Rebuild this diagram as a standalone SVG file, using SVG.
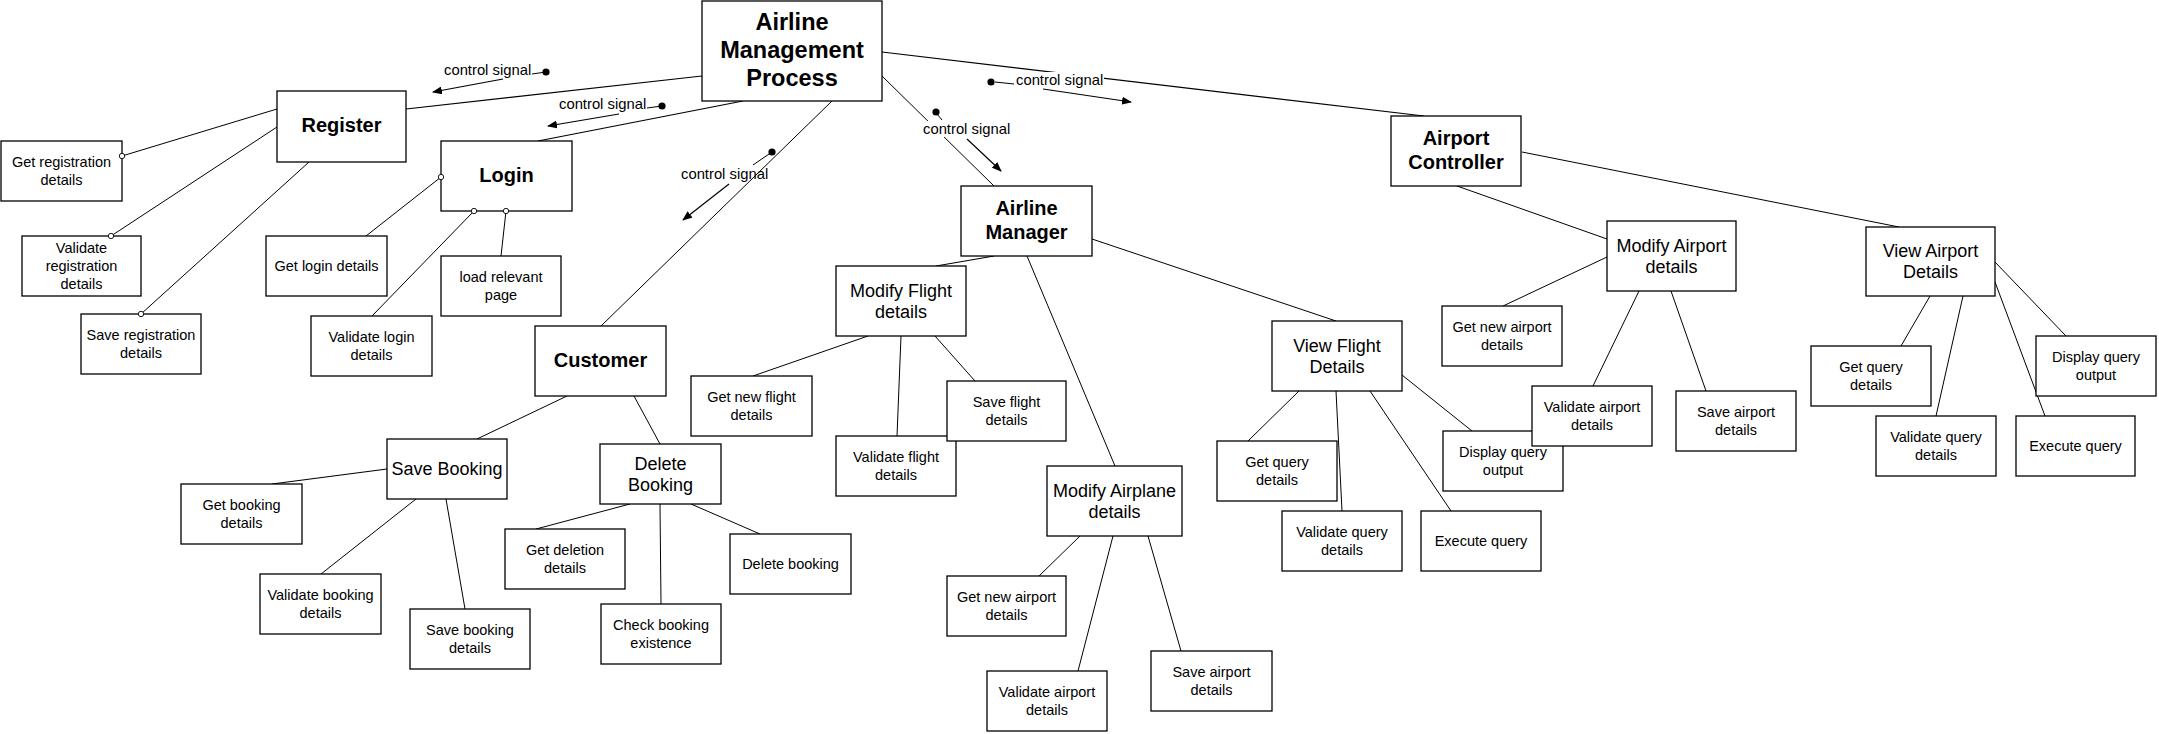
<svg xmlns="http://www.w3.org/2000/svg" width="2159" height="734" viewBox="0 0 2159 734">
<style>
.bg{fill:#fff}
.box{fill:#fff;stroke:#000;stroke-width:1.3}
.t{font-family:"Liberation Sans",Arial,Helvetica,sans-serif;text-anchor:middle;fill:#000}
.leaf{font-size:14.5px}
.mid{font-size:18px}
.main{font-size:20px;font-weight:bold}
.title{font-size:23.5px;font-weight:bold}
.cl{font-family:"Liberation Sans",Arial,Helvetica,sans-serif;font-size:14.8px;fill:#000}
.ln{stroke:#000;stroke-width:1;fill:none}
.lnb{stroke:#000;stroke-width:1.2;fill:none}
.arr{stroke:#000;stroke-width:1.2;fill:none;marker-end:url(#ah)}
.dot{fill:#000}
.oc{fill:#fff;stroke:#000;stroke-width:0.9}
.lbg{fill:#fff}
</style>
<defs>
<marker id="ah" viewBox="0 0 10 8" refX="9" refY="4" markerWidth="10" markerHeight="8" markerUnits="userSpaceOnUse" orient="auto">
<path d="M0,0 L10,4 L0,8 Z" fill="#000"/>
</marker>
</defs>
<rect class="bg" x="0" y="0" width="2159" height="734"/>

<g id="connectors">
<!-- from Airline Management Process -->
<line class="lnb" x1="702" y1="76" x2="406" y2="109"/>
<line class="lnb" x1="743" y1="101" x2="538" y2="141"/>
<line class="ln" x1="832" y1="101" x2="601" y2="326"/>
<line class="ln" x1="882" y1="76" x2="994" y2="186"/>
<line class="lnb" x1="882" y1="52" x2="1424" y2="116"/>
<!-- control signals -->
<g id="cs1">
<text class="cl" x="444" y="75">control signal</text>
<line class="ln" x1="532" y1="74" x2="546" y2="72"/>
<circle class="dot" cx="546" cy="72" r="3.6"/>
<line class="arr" x1="503" y1="79" x2="433" y2="92"/>
</g>
<g id="cs2">
<text class="cl" x="559" y="109">control signal</text>
<line class="ln" x1="647" y1="108" x2="662" y2="106"/>
<circle class="dot" cx="662" cy="106" r="3.6"/>
<line class="arr" x1="619" y1="114" x2="548" y2="126"/>
</g>
<g id="cs3">
<text class="cl" x="681" y="179">control signal</text>
<line class="ln" x1="753" y1="165" x2="772" y2="152"/>
<circle class="dot" cx="772" cy="152" r="3.6"/>
<line class="arr" x1="729" y1="184" x2="683" y2="220"/>
</g>
<g id="cs4">
<rect class="lbg" x="1015" y="72" width="89" height="16"/>
<text class="cl" x="1016" y="85">control signal</text>
<line class="ln" x1="995" y1="82" x2="1014" y2="84"/>
<circle class="dot" cx="991" cy="82" r="3.6"/>
<line class="arr" x1="1043" y1="89" x2="1131" y2="102"/>
</g>
<g id="cs5">
<rect class="lbg" x="922" y="121" width="89" height="16"/>
<text class="cl" x="923" y="134">control signal</text>
<line class="ln" x1="937" y1="114" x2="942" y2="120"/>
<circle class="dot" cx="936" cy="112" r="3.6"/>
<line class="arr" x1="967" y1="139" x2="1001" y2="171"/>
</g>
<!-- Register children -->
<line class="ln" x1="277" y1="109" x2="122" y2="156"/>
<line class="ln" x1="277" y1="127" x2="111" y2="236"/>
<line class="ln" x1="309" y1="162" x2="141" y2="314"/>
<!-- Login children -->
<line class="ln" x1="441" y1="177" x2="366" y2="236"/>
<line class="ln" x1="474" y1="211" x2="372" y2="316"/>
<line class="ln" x1="506" y1="211" x2="501" y2="256"/>
<!-- Customer -->
<line class="ln" x1="567" y1="396" x2="477" y2="439"/>
<line class="ln" x1="634" y1="396" x2="660" y2="444"/>
<!-- Save Booking -->
<line class="lnb" x1="387" y1="469" x2="272" y2="484"/>
<line class="ln" x1="416" y1="499" x2="321" y2="574"/>
<line class="ln" x1="446" y1="499" x2="465" y2="609"/>
<!-- Delete Booking -->
<line class="ln" x1="630" y1="504" x2="536" y2="529"/>
<line class="ln" x1="660" y1="504" x2="661" y2="604"/>
<line class="ln" x1="691" y1="504" x2="760" y2="534"/>
<!-- Airline Manager -->
<line class="lnb" x1="994" y1="256" x2="936" y2="266"/>
<line class="ln" x1="1027" y1="256" x2="1115" y2="466"/>
<line class="ln" x1="1092" y1="239" x2="1336" y2="321"/>
<!-- Modify Flight -->
<line class="ln" x1="868" y1="336" x2="753" y2="376"/>
<line class="ln" x1="901" y1="336" x2="897" y2="436"/>
<line class="ln" x1="935" y1="336" x2="975" y2="381"/>
<!-- Modify Airplane -->
<line class="ln" x1="1080" y1="536" x2="1039" y2="576"/>
<line class="ln" x1="1113" y1="536" x2="1078" y2="671"/>
<line class="ln" x1="1148" y1="536" x2="1181" y2="651"/>
<!-- View Flight -->
<line class="ln" x1="1299" y1="391" x2="1248" y2="441"/>
<line class="ln" x1="1336" y1="391" x2="1342" y2="511"/>
<line class="ln" x1="1370" y1="391" x2="1451" y2="511"/>
<line class="ln" x1="1402" y1="375" x2="1472" y2="431"/>
<!-- Airport Controller -->
<line class="ln" x1="1457" y1="186" x2="1607" y2="239"/>
<line class="ln" x1="1522" y1="152" x2="1899" y2="227"/>
<!-- Modify Airport -->
<line class="ln" x1="1607" y1="257" x2="1503" y2="306"/>
<line class="ln" x1="1639" y1="291" x2="1593" y2="386"/>
<line class="ln" x1="1671" y1="291" x2="1706" y2="391"/>
<!-- View Airport -->
<line class="ln" x1="1930" y1="296" x2="1901" y2="346"/>
<line class="ln" x1="1963" y1="296" x2="1936" y2="416"/>
<line class="ln" x1="1995" y1="282" x2="2045" y2="416"/>
<line class="ln" x1="1995" y1="262" x2="2066" y2="336"/>
</g>

<g id="amp"><rect class="box" x="702" y="1" width="180" height="100"/>
<text class="t title"><tspan x="792" y="30">Airline</tspan><tspan x="792" y="58">Management</tspan><tspan x="792" y="86">Process</tspan></text></g>
<g id="register"><rect class="box" x="277" y="91" width="129" height="71"/>
<text class="t main" x="341.5" y="132">Register</text></g>
<g id="login"><rect class="box" x="441" y="141" width="131" height="70"/>
<text class="t main" x="506.5" y="182">Login</text></g>
<g id="customer"><rect class="box" x="535" y="326" width="131" height="70"/>
<text class="t main" x="600.5" y="367">Customer</text></g>
<g id="airline-manager"><rect class="box" x="961" y="186" width="131" height="70"/>
<text class="t main"><tspan x="1026.5" y="215">Airline</tspan><tspan x="1026.5" y="239">Manager</tspan></text></g>
<g id="airport-controller"><rect class="box" x="1391" y="116" width="130" height="70"/>
<text class="t main"><tspan x="1456" y="145">Airport</tspan><tspan x="1456" y="169">Controller</tspan></text></g>

<g id="save-booking"><rect class="box" x="387" y="439" width="120" height="60"/>
<text class="t mid" x="447" y="475">Save Booking</text></g>
<g id="delete-booking"><rect class="box" x="600" y="444" width="121" height="60"/>
<text class="t mid"><tspan x="660.5" y="469.5">Delete</tspan><tspan x="660.5" y="490.5">Booking</tspan></text></g>
<g id="modify-flight"><rect class="box" x="836" y="266" width="130" height="70"/>
<text class="t mid"><tspan x="901" y="296.5">Modify Flight</tspan><tspan x="901" y="317.5">details</tspan></text></g>
<g id="modify-airplane"><rect class="box" x="1047" y="466" width="135" height="70"/>
<text class="t mid"><tspan x="1114.5" y="496.5">Modify Airplane</tspan><tspan x="1114.5" y="517.5">details</tspan></text></g>
<g id="view-flight"><rect class="box" x="1272" y="321" width="130" height="70"/>
<text class="t mid"><tspan x="1337" y="351.5">View Flight</tspan><tspan x="1337" y="372.5">Details</tspan></text></g>
<g id="modify-airport"><rect class="box" x="1607" y="221" width="129" height="70"/>
<text class="t mid"><tspan x="1671.5" y="251.5">Modify Airport</tspan><tspan x="1671.5" y="272.5">details</tspan></text></g>
<g id="view-airport"><rect class="box" x="1866" y="227" width="129" height="69"/>
<text class="t mid"><tspan x="1930.5" y="256.5">View Airport</tspan><tspan x="1930.5" y="277.5">Details</tspan></text></g>

<g id="get-reg"><rect class="box" x="1" y="141" width="121" height="60"/>
<text class="t leaf"><tspan x="61.5" y="167">Get registration</tspan><tspan x="61.5" y="185">details</tspan></text></g>
<g id="validate-reg"><rect class="box" x="22" y="236" width="119" height="60"/>
<text class="t leaf"><tspan x="81.5" y="253">Validate</tspan><tspan x="81.5" y="271">registration</tspan><tspan x="81.5" y="289">details</tspan></text></g>
<g id="save-reg"><rect class="box" x="81" y="314" width="120" height="60"/>
<text class="t leaf"><tspan x="141" y="340">Save registration</tspan><tspan x="141" y="358">details</tspan></text></g>
<g id="get-login"><rect class="box" x="266" y="236" width="121" height="60"/>
<text class="t leaf" x="326.5" y="271">Get login details</text></g>
<g id="load-page"><rect class="box" x="441" y="256" width="120" height="60"/>
<text class="t leaf"><tspan x="501" y="282">load relevant</tspan><tspan x="501" y="300">page</tspan></text></g>
<g id="validate-login"><rect class="box" x="311" y="316" width="121" height="60"/>
<text class="t leaf"><tspan x="371.5" y="342">Validate login</tspan><tspan x="371.5" y="360">details</tspan></text></g>
<g id="get-booking"><rect class="box" x="181" y="484" width="121" height="60"/>
<text class="t leaf"><tspan x="241.5" y="510">Get booking</tspan><tspan x="241.5" y="528">details</tspan></text></g>
<g id="validate-booking"><rect class="box" x="260" y="574" width="121" height="60"/>
<text class="t leaf"><tspan x="320.5" y="600">Validate booking</tspan><tspan x="320.5" y="618">details</tspan></text></g>
<g id="save-booking-details"><rect class="box" x="410" y="609" width="120" height="60"/>
<text class="t leaf"><tspan x="470" y="635">Save booking</tspan><tspan x="470" y="653">details</tspan></text></g>
<g id="get-deletion"><rect class="box" x="505" y="529" width="120" height="60"/>
<text class="t leaf"><tspan x="565" y="555">Get deletion</tspan><tspan x="565" y="573">details</tspan></text></g>
<g id="check-booking"><rect class="box" x="601" y="604" width="120" height="60"/>
<text class="t leaf"><tspan x="661" y="630">Check booking</tspan><tspan x="661" y="648">existence</tspan></text></g>
<g id="delete-booking-leaf"><rect class="box" x="730" y="534" width="121" height="60"/>
<text class="t leaf" x="790.5" y="569">Delete booking</text></g>
<g id="get-new-flight"><rect class="box" x="691" y="376" width="121" height="60"/>
<text class="t leaf"><tspan x="751.5" y="402">Get new flight</tspan><tspan x="751.5" y="420">details</tspan></text></g>
<g id="validate-flight"><rect class="box" x="836" y="436" width="120" height="60"/>
<text class="t leaf"><tspan x="896" y="462">Validate flight</tspan><tspan x="896" y="480">details</tspan></text></g>
<g id="save-flight"><rect class="box" x="947" y="381" width="119" height="60"/>
<text class="t leaf"><tspan x="1006.5" y="407">Save flight</tspan><tspan x="1006.5" y="425">details</tspan></text></g>
<g id="get-new-airport-mid"><rect class="box" x="947" y="576" width="119" height="60"/>
<text class="t leaf"><tspan x="1006.5" y="602">Get new airport</tspan><tspan x="1006.5" y="620">details</tspan></text></g>
<g id="validate-airport-mid"><rect class="box" x="987" y="671" width="120" height="60"/>
<text class="t leaf"><tspan x="1047" y="697">Validate airport</tspan><tspan x="1047" y="715">details</tspan></text></g>
<g id="save-airport-mid"><rect class="box" x="1151" y="651" width="121" height="60"/>
<text class="t leaf"><tspan x="1211.5" y="677">Save airport</tspan><tspan x="1211.5" y="695">details</tspan></text></g>
<g id="get-query-mid"><rect class="box" x="1217" y="441" width="120" height="60"/>
<text class="t leaf"><tspan x="1277" y="467">Get query</tspan><tspan x="1277" y="485">details</tspan></text></g>
<g id="validate-query-mid"><rect class="box" x="1282" y="511" width="120" height="60"/>
<text class="t leaf"><tspan x="1342" y="537">Validate query</tspan><tspan x="1342" y="555">details</tspan></text></g>
<g id="display-query-mid"><rect class="box" x="1443" y="431" width="120" height="60"/>
<text class="t leaf"><tspan x="1503" y="457">Display query</tspan><tspan x="1503" y="475">output</tspan></text></g>
<g id="execute-query-mid"><rect class="box" x="1421" y="511" width="120" height="60"/>
<text class="t leaf" x="1481" y="546">Execute query</text></g>
<g id="get-new-airport-right"><rect class="box" x="1442" y="306" width="120" height="60"/>
<text class="t leaf"><tspan x="1502" y="332">Get new airport</tspan><tspan x="1502" y="350">details</tspan></text></g>
<g id="validate-airport-right"><rect class="box" x="1532" y="386" width="120" height="60"/>
<text class="t leaf"><tspan x="1592" y="412">Validate airport</tspan><tspan x="1592" y="430">details</tspan></text></g>
<g id="save-airport-right"><rect class="box" x="1676" y="391" width="120" height="60"/>
<text class="t leaf"><tspan x="1736" y="417">Save airport</tspan><tspan x="1736" y="435">details</tspan></text></g>
<g id="get-query-right"><rect class="box" x="1811" y="346" width="120" height="60"/>
<text class="t leaf"><tspan x="1871" y="372">Get query</tspan><tspan x="1871" y="390">details</tspan></text></g>
<g id="validate-query-right"><rect class="box" x="1876" y="416" width="120" height="60"/>
<text class="t leaf"><tspan x="1936" y="442">Validate query</tspan><tspan x="1936" y="460">details</tspan></text></g>
<g id="display-query-right"><rect class="box" x="2036" y="336" width="120" height="60"/>
<text class="t leaf"><tspan x="2096" y="362">Display query</tspan><tspan x="2096" y="380">output</tspan></text></g>
<g id="execute-query-right"><rect class="box" x="2016" y="416" width="119" height="60"/>
<text class="t leaf" x="2075.5" y="451">Execute query</text></g>

<g id="end-circles">
<circle class="oc" cx="122" cy="156" r="2.7"/>
<circle class="oc" cx="111" cy="236" r="2.7"/>
<circle class="oc" cx="141" cy="314" r="2.7"/>
<circle class="oc" cx="441" cy="177" r="2.7"/>
<circle class="oc" cx="474" cy="211" r="2.7"/>
<circle class="oc" cx="506" cy="211" r="2.7"/>
</g>
</svg>
